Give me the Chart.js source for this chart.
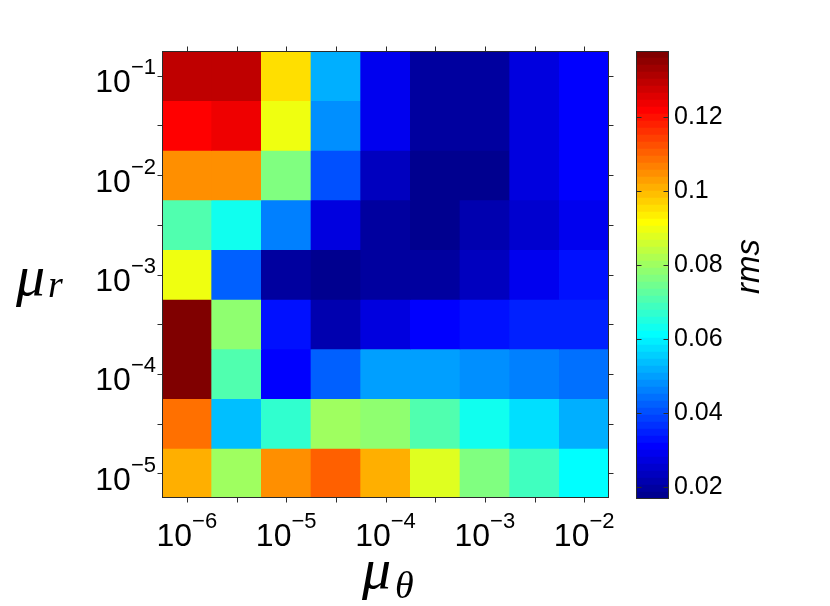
<!DOCTYPE html>
<html>
<head>
  <meta charset="UTF-8">
  <title>rms over mu_theta and mu_r</title>
  <script src="https://cdn.jsdelivr.net/npm/chart.js"></script>
  <style>
    body {
      margin: 0;
      background-color: #ffffff;
    }
    #wrap {
      position: relative;
      width: 830px;
      height: 606px;
    }
    #heat {
      position: absolute;
      left: 0;
      top: 0;
    }
    #cbar {
      position: absolute;
      left: 600px;
      top: 0;
    }
  </style>
</head>
<body>

  <div id="wrap">
    <canvas id="heat" width="830" height="606"></canvas>
    <canvas id="cbar" width="230" height="606"></canvas>
  </div>

  <script>
    // grid: mu_theta = 10^x (columns), mu_r = 10^y (rows, top to bottom)
    const muThetaExp = [-6, -5.5, -5, -4.5, -4, -3.5, -3, -2.5, -2];
    const muRExp = [-1, -1.5, -2, -2.5, -3, -3.5, -4, -4.5, -5];
    const xLabelExp = [-6, -5, -4, -3, -2];
    const yLabelExp = [-1, -2, -3, -4, -5];

    // rms for each mu_r row, one value per mu_theta column
    const rmsR1_0 = [0.1295, 0.1295, 0.0954, 0.0518, 0.0290, 0.0196, 0.0196, 0.0271, 0.0309];
    const rmsR1_5 = [0.1219, 0.1238, 0.0897, 0.0480, 0.0290, 0.0196, 0.0196, 0.0271, 0.0309];
    const rmsR2_0 = [0.1048, 0.1048, 0.0764, 0.0404, 0.0233, 0.0177, 0.0177, 0.0271, 0.0309];
    const rmsR2_5 = [0.0707, 0.0631, 0.0461, 0.0271, 0.0196, 0.0177, 0.0214, 0.0252, 0.0290];
    const rmsR3_0 = [0.0897, 0.0423, 0.0196, 0.0177, 0.0196, 0.0196, 0.0233, 0.0290, 0.0328];
    const rmsR3_5 = [0.1371, 0.0783, 0.0328, 0.0214, 0.0271, 0.0309, 0.0328, 0.0347, 0.0347];
    const rmsR4_0 = [0.1371, 0.0707, 0.0309, 0.0423, 0.0499, 0.0499, 0.0480, 0.0461, 0.0442];
    const rmsR4_5 = [0.1086, 0.0537, 0.0669, 0.0802, 0.0783, 0.0707, 0.0631, 0.0575, 0.0518];
    const rmsR5_0 = [0.1010, 0.0802, 0.1048, 0.1105, 0.1010, 0.0878, 0.0764, 0.0688, 0.0612];
    const rmsRows = [rmsR1_0, rmsR1_5, rmsR2_0, rmsR2_5, rmsR3_0, rmsR3_5, rmsR4_0, rmsR4_5, rmsR5_0];

    // colour bar
    const rmsMin = 0.0167;
    const rmsMax = 0.138;
    const cbTicks = [0.02, 0.04, 0.06, 0.08, 0.1, 0.12];
    const cbTickLabels = ['0.02', '0.04', '0.06', '0.08', '0.1', '0.12'];

    const SANS = '"Liberation Sans", Arial, sans-serif';
    const SERIF = '"Liberation Serif", "DejaVu Serif", serif';

    // matlab style jet with 64 levels, k = 0..63
    function jet(k) {
      const u = [];
      for (let j = 1; j <= 16; j++) u.push(j / 16);
      for (let j = 0; j < 15; j++) u.push(1);
      for (let j = 16; j >= 1; j--) u.push(j / 16);
      const at = n => (n >= 0 && n < u.length) ? u[n] : 0;
      const r = at(k - 24), g = at(k - 8), b = at(k + 8);
      return 'rgb(' + Math.round(r * 255) + ',' + Math.round(g * 255) + ',' + Math.round(b * 255) + ')';
    }

    function colorFor(v) {
      let k = Math.floor((v - rmsMin) / (rmsMax - rmsMin) * 64);
      k = Math.max(0, Math.min(63, k));
      return jet(k);
    }

    // "10" with a raised exponent
    function powerLabel(ctx, exp, x, yBase, align) {
      const base = '10';
      const sup = '\u2212' + Math.abs(exp);
      ctx.font = '32px ' + SANS;
      const wb = ctx.measureText(base).width;
      ctx.font = '22px ' + SANS;
      const ws = ctx.measureText(sup).width;
      const left = align === 'center' ? x - (wb + ws) / 2 : x - (wb + ws);
      ctx.textAlign = 'left';
      ctx.textBaseline = 'alphabetic';
      ctx.fillStyle = '#000';
      ctx.font = '32px ' + SANS;
      ctx.fillText(base, left, yBase);
      ctx.font = '22px ' + SANS;
      ctx.fillText(sup, left + wb, yBase - 18);
    }

    function mathLabel(ctx, sym, sub, x, yBase, subDx, subDy) {
      ctx.textAlign = 'left';
      ctx.textBaseline = 'alphabetic';
      ctx.fillStyle = '#000';
      ctx.font = 'italic 58px ' + SERIF;
      ctx.fillText(sym, x, yBase);
      ctx.font = 'italic 38px ' + SERIF;
      ctx.fillText(sub, x + subDx, yBase + subDy);
    }

    const heatFrame = {
      id: 'heatFrame',
      afterDraw(chart) {
        const { ctx, chartArea: a, scales: { x, y } } = chart;
        const L = Math.round(a.left) + 0.5, R = Math.round(a.right) - 0.5;
        const T = Math.round(a.top) + 0.5, B = Math.round(a.bottom) - 0.5;
        ctx.save();
        ctx.strokeStyle = '#2b2b2b';
        ctx.lineWidth = 1;
        ctx.strokeRect(L, T, R - L, B - T);

        ctx.beginPath();
        muThetaExp.forEach((e, i) => {
          const px = Math.round(x.getPixelForValue(i)) + 0.5;
          ctx.moveTo(px, B); ctx.lineTo(px, B + 5);
          ctx.moveTo(px, T); ctx.lineTo(px, T - 5);
        });
        muRExp.forEach(e => {
          const py = Math.round(y.getPixelForValue(e)) + 0.5;
          ctx.moveTo(L, py); ctx.lineTo(L - 5, py);
          ctx.moveTo(R, py); ctx.lineTo(R + 5, py);
        });
        ctx.stroke();

        xLabelExp.forEach(e => {
          const px = x.getPixelForValue(muThetaExp.indexOf(e));
          powerLabel(ctx, e, px, a.bottom + 48, 'center');
        });
        yLabelExp.forEach(e => {
          const py = y.getPixelForValue(e);
          powerLabel(ctx, e, a.left - 6, py + 16.5, 'right');
        });

        mathLabel(ctx, '\u03bc', 'r', 16, 295, 32, 2);
        mathLabel(ctx, '\u03bc', '\u03b8', 362, 588, 33, 10);
        ctx.restore();
      }
    };

    new Chart(document.getElementById('heat').getContext('2d'), {
      type: 'bar',
      data: {
        labels: muThetaExp.map(String),
        datasets: rmsRows.map((row, r) => ({
          label: 'mu_r 1e' + muRExp[r],
          data: row.map(() => [muRExp[r] - 0.25, muRExp[r] + 0.25]),
          backgroundColor: row.map(colorFor),
          borderWidth: 0,
          barPercentage: 1,
          categoryPercentage: 1,
          grouped: false
        }))
      },
      options: {
        responsive: false,
        animation: false,
        layout: { padding: { left: 0, top: 51, right: 221, bottom: 0 } },
        plugins: {
          legend: { display: false },
          tooltip: { enabled: false }
        },
        scales: {
          x: {
            type: 'category',
            grid: { display: false, drawTicks: false },
            border: { display: false },
            ticks: { display: false },
            afterFit: s => { s.height = 108; }
          },
          y: {
            type: 'linear',
            min: -5.25,
            max: -0.75,
            grid: { display: false, drawTicks: false },
            border: { display: false },
            ticks: { display: false },
            afterFit: s => { s.width = 162; }
          }
        }
      },
      plugins: [heatFrame]
    });

    // colour bar as a second chart: 64 stacked bands
    const bandStep = (rmsMax - rmsMin) / 64;
    const bands = [];
    for (let k = 0; k < 64; k++) bands.push(k);

    const barFrame = {
      id: 'barFrame',
      afterDraw(chart) {
        const { ctx, chartArea: a, scales: { y } } = chart;
        const L = Math.round(a.left) + 0.5, R = Math.round(a.right) - 0.5;
        const T = Math.round(a.top) + 0.5, B = Math.round(a.bottom) - 0.5;
        ctx.save();
        ctx.strokeStyle = '#2b2b2b';
        ctx.lineWidth = 1;
        ctx.strokeRect(L, T, R - L, B - T);
        ctx.beginPath();
        cbTicks.forEach(v => {
          const py = Math.round(y.getPixelForValue(v)) + 0.5;
          ctx.moveTo(R, py); ctx.lineTo(R - 5, py);
          ctx.moveTo(L, py); ctx.lineTo(L + 5, py);
        });
        ctx.stroke();

        ctx.translate(159, 266.5);
        ctx.rotate(-Math.PI / 2);
        ctx.fillStyle = '#000';
        ctx.textAlign = 'center';
        ctx.textBaseline = 'alphabetic';
        ctx.font = 'italic 33px ' + SANS;
        ctx.fillText('rms', 0, 0);
        ctx.restore();
      }
    };

    new Chart(document.getElementById('cbar').getContext('2d'), {
      type: 'bar',
      data: {
        labels: ['rms'],
        datasets: bands.map(k => ({
          label: 'band ' + k,
          data: [[rmsMin + k * bandStep, rmsMin + (k + 1) * bandStep]],
          backgroundColor: jet(k),
          borderWidth: 0,
          barPercentage: 1,
          categoryPercentage: 1,
          grouped: false
        }))
      },
      options: {
        responsive: false,
        animation: false,
        layout: { padding: { left: 36, top: 51, right: 0, bottom: 107 } },
        plugins: {
          legend: { display: false },
          tooltip: { enabled: false }
        },
        scales: {
          x: { display: false },
          y: {
            type: 'linear',
            position: 'right',
            min: rmsMin,
            max: rmsMax,
            afterBuildTicks: s => { s.ticks = cbTicks.map(v => ({ value: v })); },
            ticks: {
              callback: (v, i) => cbTickLabels[i],
              color: '#000',
              padding: 5,
              font: { family: SANS, size: 25 }
            },
            grid: { display: false, drawTicks: false },
            border: { display: false },
            afterFit: s => { s.width = 161; }
          }
        }
      },
      plugins: [barFrame]
    });
  </script>

</body>
</html>
